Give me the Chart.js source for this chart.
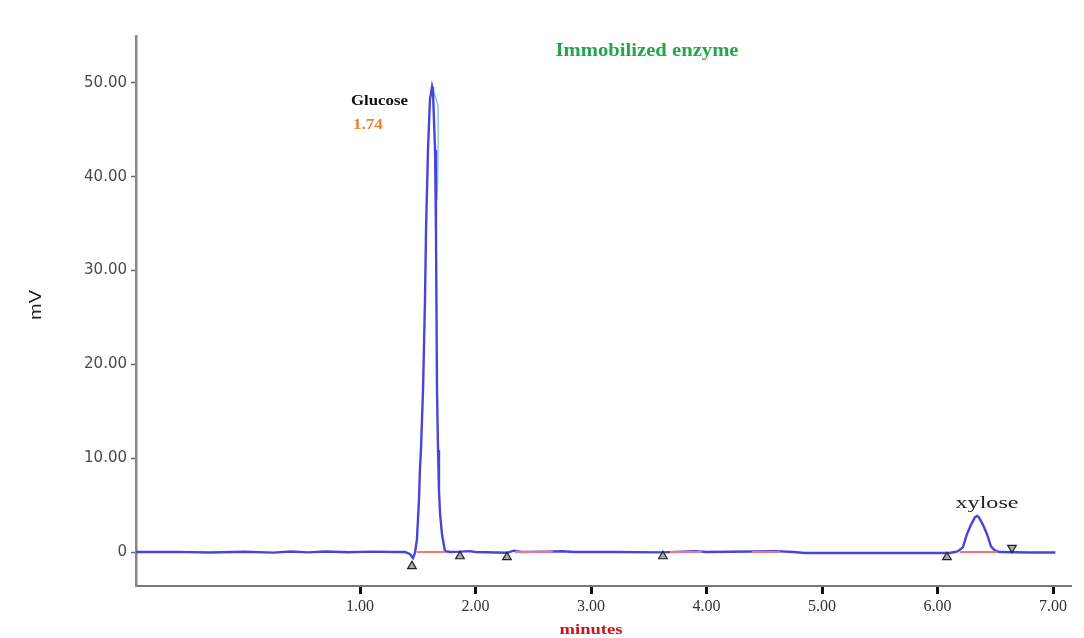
<!DOCTYPE html>
<html>
<head>
<meta charset="utf-8">
<script src="https://cdn.jsdelivr.net/npm/chart.js@4.4.1/dist/chart.umd.min.js"></script>
<style>
  html, body { margin: 0; padding: 0; background: #ffffff; }
  #wrap { width: 1084px; height: 638px; position: relative; }
</style>
</head>
<body>
<div id="wrap"><canvas id="c" width="1084" height="638"></canvas></div>
<script>
// ---- data ----
const traceMin = [-0.94, -0.6, -0.3, 0.0, 0.25, 0.4, 0.55, 0.7, 0.9, 1.1, 1.3, 1.389, 1.431, 1.458, 1.475,
  1.492, 1.510, 1.518, 1.527, 1.545, 1.562, 1.571, 1.588, 1.605, 1.623, 1.631, 1.649, 1.657, 1.661,
  1.666, 1.675, 1.683, 1.692, 1.710, 1.735, 1.779, 1.87, 1.95, 2.0, 2.27, 2.33, 2.4, 2.6, 2.75, 2.85,
  3.2, 3.62, 3.9, 4.0, 4.4, 4.6, 4.75, 4.85, 5.5, 6.1, 6.15, 6.176, 6.219, 6.254, 6.289, 6.323, 6.341,
  6.358, 6.393, 6.428, 6.462, 6.497, 6.54, 6.8, 7.02];
const traceMv = [0, 0.02, -0.05, 0.03, -0.06, 0.05, -0.04, 0.06, -0.03, 0.04, 0, 0, -0.2, -0.64, -0.1,
  1.28, 5.54, 8.74, 10.87, 17.27, 26.87, 34.33, 42.86, 48.2, 49.6, 49.1, 42.86, 34.33, 26.87,
  17.27, 10.87, 6.61, 4.16, 1.81, 0.1, 0, 0.04, 0.1, 0, -0.08, 0.15, 0, 0.04, 0.08, 0,
  0, -0.04, 0.08, 0, 0.06, 0.1, 0, -0.1, -0.1, -0.1, 0, 0.1, 0.5, 1.9, 2.9, 3.7, 3.85,
  3.7, 2.9, 1.9, 0.6, 0.15, 0, -0.05, -0.05];
const shoulderMin = [1.631, 1.650, 1.666, 1.675, 1.676, 1.672, 1.666];
const shoulderMv = [49.3, 48.6, 48.0, 47.5, 43.5, 39.5, 37.5];
const baseStartMin = [1.492, 2.341, 3.683, 4.393, 6.194];
const baseEndMin = [1.735, 2.670, 3.960, 4.636, 6.514];
const markUpMin = [1.449, 1.865, 2.272, 3.622, 6.081];
const markUpMv = [-1.5, -0.45, -0.55, -0.45, -0.55];
const markDownMin = [6.644];
const markDownMv = [0.45];
const xTicks = [1, 2, 3, 4, 5, 6, 7];
const yTicks = [0, 10, 20, 30, 40, 50];
const peakLabelText = ['Glucose', '1.74', 'xylose'];
const peakLabelMin = [0.921, 0.938, 6.428];
const peakLabelMv = [48.1, 45.5, 5.22];

// ---- build datasets ----
const zip = (xs, ys) => xs.map((x, i) => ({ x: x, y: ys[i] }));
const baseData = [];
baseStartMin.forEach((s, i) => {
  baseData.push({ x: s, y: 0 }, { x: baseEndMin[i], y: 0 }, { x: baseEndMin[i] + 0.001, y: null });
});

function fitText(ctx, txt, x, y, font, color, w, align) {
  ctx.save();
  ctx.font = font;
  ctx.fillStyle = color;
  ctx.textBaseline = 'middle';
  ctx.textAlign = 'left';
  const m = ctx.measureText(txt).width;
  const s = w / m;
  const left = align === 'center' ? x - w / 2 : x;
  ctx.translate(left, y);
  ctx.scale(s, 1);
  ctx.fillText(txt, 0, 0);
  ctx.restore();
}

const textPlugin = {
  id: 'texts',
  afterDraw(chart) {
    const ctx = chart.ctx;
    const xs = chart.scales.x, ys = chart.scales.y;
    fitText(ctx, 'Immobilized enzyme', 647, 51, 'bold 18px "Liberation Serif", serif', '#25a64c', 183, 'center');
    fitText(ctx, 'minutes', 591, 630, 'bold 15px "Liberation Serif", serif', '#c8161e', 63, 'center');
    ctx.save();
    ctx.translate(36, 305);
    ctx.rotate(-Math.PI / 2);
    fitText(ctx, 'mV', 0, 0, '17px "Liberation Sans", sans-serif', '#222222', 30, 'center');
    ctx.restore();
    const styles = [
      { font: 'bold 15px "Liberation Serif", serif', color: '#111111', w: 57, align: 'left' },
      { font: 'bold 14px "Liberation Serif", serif', color: '#e8842c', w: 30, align: 'left' },
      { font: '17px "Liberation Serif", serif', color: '#222222', w: 63, align: 'center' }
    ];
    peakLabelText.forEach((t, i) => {
      const st = styles[i];
      fitText(ctx, t, xs.getPixelForValue(peakLabelMin[i]), ys.getPixelForValue(peakLabelMv[i]),
        st.font, st.color, st.w, st.align);
    });
  }
};

const bgPlugin = {
  id: 'bg',
  beforeDraw(chart) {
    const ctx = chart.ctx;
    ctx.save();
    ctx.fillStyle = '#ffffff';
    ctx.fillRect(0, 0, chart.width, chart.height);
    ctx.restore();
  }
};

new Chart(document.getElementById('c'), {
  type: 'line',
  data: {
    datasets: [
      { data: zip(markUpMin, markUpMv), showLine: false, pointStyle: 'triangle', pointRadius: 5,
        pointBackgroundColor: '#a8a8a8', pointBorderColor: '#222222', pointBorderWidth: 1.2, order: 0 },
      { data: zip(markDownMin, markDownMv), showLine: false, pointStyle: 'triangle', pointRotation: 180,
        pointRadius: 5, pointBackgroundColor: '#a8a8a8', pointBorderColor: '#222222', pointBorderWidth: 1.2, order: 0 },
      { data: baseData, borderColor: '#f07878', borderWidth: 2, pointRadius: 0, spanGaps: false,
        tension: 0, order: 1 },
      { data: zip(traceMin, traceMv), borderColor: '#4646dc', borderWidth: 2.4, pointRadius: 0,
        tension: 0, order: 2 },
      { data: zip(shoulderMin, shoulderMv), borderColor: '#62c6d6', borderWidth: 1.2, pointRadius: 0,
        tension: 0, order: 3 }
    ]
  },
  options: {
    responsive: false,
    animation: false,
    devicePixelRatio: 1,
    layout: { padding: { left: 0, right: 13, top: 36, bottom: 0 } },
    plugins: { legend: { display: false }, tooltip: { enabled: false }, title: { display: false } },
    scales: {
      x: {
        type: 'linear',
        min: -0.94,
        max: 7.155,
        afterBuildTicks: (s) => { s.ticks = xTicks.map(v => ({ value: v })); },
        afterFit: (s) => { s.height = 52; },
        ticks: {
          callback: (v) => v.toFixed(2),
          font: { family: '"Liberation Serif", serif', size: 16 },
          color: '#333333',
          padding: 3,
          maxRotation: 0,
          autoSkip: false
        },
        grid: { drawOnChartArea: false, drawTicks: true, tickLength: 8, tickWidth: 3, tickColor: '#111111' },
        border: { display: true, color: '#777777', width: 2 }
      },
      y: {
        type: 'linear',
        min: -3.62,
        max: 55,
        afterBuildTicks: (s) => { s.ticks = yTicks.map(v => ({ value: v })); },
        afterFit: (s) => { s.width = 136; },
        ticks: {
          callback: (v) => (v === 0 ? '0' : v.toFixed(2)),
          font: { family: '"DejaVu Sans", sans-serif', size: 15 },
          color: '#4a4a4a',
          padding: 4
        },
        grid: { drawOnChartArea: false, drawTicks: true, tickLength: 5, tickWidth: 1.5, tickColor: '#666666' },
        border: { display: true, color: '#888888', width: 2.5 }
      }
    }
  },
  plugins: [bgPlugin, textPlugin]
});
</script>
</body>
</html>
